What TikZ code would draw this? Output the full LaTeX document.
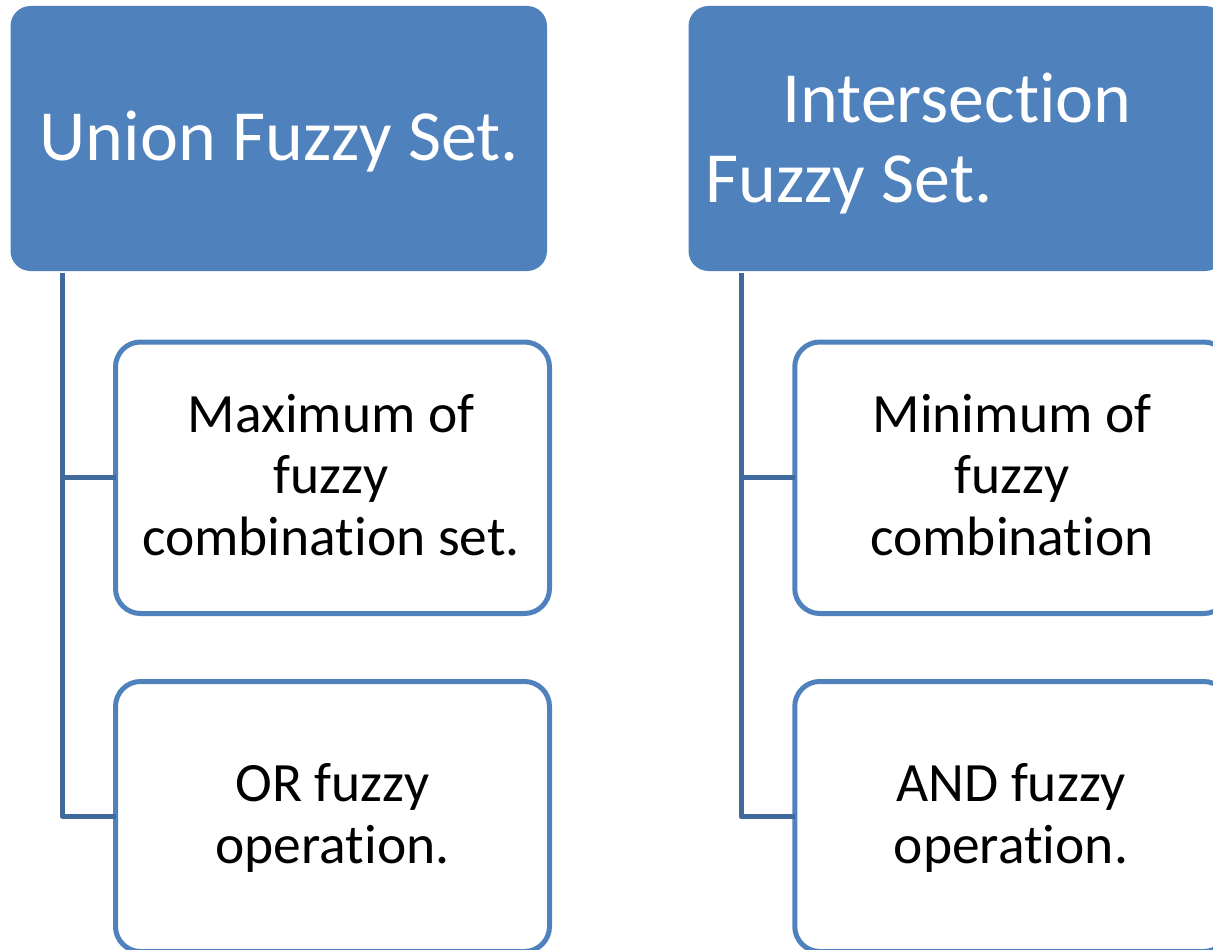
\documentclass[tikz,border=0pt]{standalone}
\usepackage{fontspec}
\setmainfont{Carlito}[Ligatures=NoCommon]
\definecolor{accent}{HTML}{4F81BD}
\definecolor{connblue}{HTML}{416A9C}
\begin{document}
\begin{tikzpicture}[x=1pt,y=-1pt,
  headbox/.style={fill=accent, draw=none, rounded corners=20pt, inner sep=0pt, outer sep=0pt,
    minimum width=536.5pt, minimum height=265pt},
  childbox/.style={draw=accent, line width=5pt, fill=white, rounded corners=25pt, inner sep=0pt,
    outer sep=0pt, minimum width=434pt},
  conn/.style={draw=connblue, line width=5pt, line join=round},
  headtext/.style={text=white, inner sep=0pt, font=\fontsize{72}{80}\selectfont},
  childtext/.style={text=black, inner sep=0pt, align=center, font=\fontsize{55.5}{61.5}\selectfont},
]
\useasboundingbox (0,0) rectangle (1213,950);
\clip (0,0) rectangle (1213,950);

% header boxes
\node[headbox] (uhead) at (278.75,138.5) {};
\node[headbox] (ihead) at (956.75,138.5) {};
\node[headtext, anchor=base] (utitle) at (279.5,160) {Union Fuzzy Set.};
\node[headtext, anchor=base] (ititle1) at (957,122) {Intersection};
\node[headtext, anchor=base west] (ititle2) at (705.5,202) {Fuzzy Set.};

% spine coordinates below each header
\coordinate (uspine) at (62.5,273);
\coordinate (ispine) at (741,273);

% child boxes
\node[childbox, minimum height=271.5pt] (uc1) at (332.5,477.75) {};
\node[childbox, minimum height=270pt] (uc2) at (332.5,816.5) {};
\node[childbox, minimum height=271.5pt] (ic1) at (1011.75,477.75) {};
\node[childbox, minimum height=270pt] (ic2) at (1011.75,816.5) {};

% connectors
\draw[conn] (uspine) |- (uc2.west);
\draw[conn] (uc1.west) -- (uc1.west -| uspine);
\draw[conn] (ispine) |- (ic2.west);
\draw[conn] (ic1.west) -- (ic1.west -| ispine);

% child texts (base anchor sits on the last line)
\node[childtext, anchor=base] (uc1t) at (331,555) {Maximum of\\fuzzy\\combination set.};
\node[childtext, anchor=base] (uc2t) at (332.5,863) {OR fuzzy\\operation.};
\node[childtext, anchor=base] (ic1t) at (1012,555) {Minimum of\\fuzzy\\combination};
\node[childtext, anchor=base] (ic2t) at (1011,863) {AND fuzzy\\operation.};
\end{tikzpicture}
\end{document}
